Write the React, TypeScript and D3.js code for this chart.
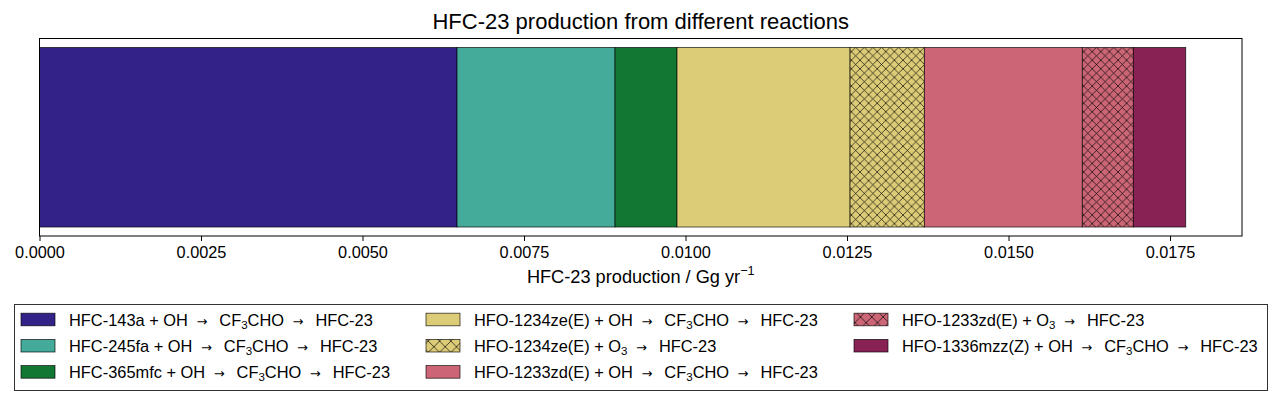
import React, { useEffect, useRef } from "react";
import * as d3 from "d3";

const WIDTH = 1282;
const HEIGHT = 406;
const MARGIN_LEFT = 39.5;
const MARGIN_RIGHT = 1242;
const PLOT_TOP = 38.5;
const PLOT_BOTTOM = 236;
const FONT = "'Liberation Sans', Arial, Helvetica, sans-serif";
const ARROW_FONT = "'DejaVu Sans', sans-serif";

// reaction pathways, in stacking order
const precursors = [
  "HFC-143a",
  "HFC-245fa",
  "HFC-365mfc",
  "HFO-1234ze(E)",
  "HFO-1234ze(E)",
  "HFO-1233zd(E)",
  "HFO-1233zd(E)",
  "HFO-1336mzz(Z)",
];
const oxidants = ["OH", "OH", "OH", "OH", "O3", "OH", "O3", "OH"];
const production = [
  0.006463, 0.002446, 0.000959, 0.002679, 0.00115, 0.002445, 0.00079, 0.000811,
];
const colors = [
  "#332288",
  "#44AA99",
  "#117733",
  "#DDCC77",
  "#DDCC77",
  "#CC6677",
  "#CC6677",
  "#882255",
];
const hatched = [false, false, false, false, true, false, true, false];
const xTicks = [0, 0.0025, 0.005, 0.0075, 0.01, 0.0125, 0.015, 0.0175];
const X_MAX = 0.018614;

// legend is filled column by column, 3 rows
const LEGEND_ROWS = 3;
const legendColX = [21, 426, 854];

type TextSel = d3.Selection<SVGTextElement, unknown, null, undefined>;

function addLabel(text: TextSel, i: number) {
  const plain = (s: string, dx = 0) =>
    text.append("tspan").attr("dx", dx).text(s);
  const sub = (s: string) =>
    text.append("tspan").attr("font-size", 11.5).attr("dy", 3.5).text(s);
  const arrow = (dy = 0) =>
    text
      .append("tspan")
      .attr("dx", 8.5)
      .attr("dy", dy)
      .attr("font-family", ARROW_FONT)
      .attr("font-size", 13)
      .text("\u2192");

  plain(precursors[i] + " + ");
  if (oxidants[i] === "O3") {
    plain("O");
    sub("3");
    arrow(-3.5);
    plain("HFC-23", 12);
  } else {
    plain("OH");
    arrow();
    plain("CF", 12);
    sub("3");
    text.append("tspan").attr("dy", -3.5).text("CHO");
    arrow();
    plain("HFC-23", 12);
  }
}

export default function App() {
  const svgRef = useRef<SVGSVGElement>(null);

  useEffect(() => {
    const svg = d3.select(svgRef.current);
    svg.selectAll("*").remove();

    const x = d3
      .scaleLinear()
      .domain([0, X_MAX])
      .range([MARGIN_LEFT, MARGIN_RIGHT]);
    const y = d3.scaleLinear().domain([-0.44, 0.44]).range([PLOT_BOTTOM, PLOT_TOP]);

    const defs = svg.append("defs");
    const hatch = (id: string, c: string, s: number) => {
      const p = defs
        .append("pattern")
        .attr("id", id)
        .attr("patternUnits", "userSpaceOnUse")
        .attr("width", s)
        .attr("height", s);
      p.append("rect").attr("width", s).attr("height", s).attr("fill", c);
      p.append("path")
        .attr(
          "d",
          `M0,0L${s},${s}M0,${s}L${s},0M-1,1L1,-1M${s - 1},${s + 1}L${s + 1},${s - 1}` +
            `M-1,${s - 1}L1,${s + 1}M${s - 1},-1L${s + 1},1`
        )
        .attr("stroke", "#000")
        .attr("stroke-opacity", 0.75)
        .attr("stroke-width", 0.9);
      return p;
    };
    colors.forEach((c, i) => {
      if (!hatched[i]) return;
      hatch(`hatch${i}`, c, 8.6);
      const col = Math.floor(i / LEGEND_ROWS);
      const row = i % LEGEND_ROWS;
      hatch(`lhatch${i}`, c, 11.3).attr(
        "patternTransform",
        `translate(${legendColX[col]},${319.5 + row * 26.2 - 5.65})`
      );
    });
    const fillOf = (i: number) => (hatched[i] ? `url(#hatch${i})` : colors[i]);
    const legendFillOf = (i: number) =>
      hatched[i] ? `url(#lhatch${i})` : colors[i];

    const ends = Array.from(d3.cumsum(production));
    const starts = ends.map((e, i) => e - production[i]);

    svg
      .append("g")
      .selectAll("rect")
      .data(production)
      .join("rect")
      .attr("x", (_, i) => x(starts[i]))
      .attr("width", (_, i) => x(ends[i]) - x(starts[i]))
      .attr("y", y(0.4))
      .attr("height", y(-0.4) - y(0.4))
      .attr("fill", (_, i) => fillOf(i))
      .attr("stroke", "#000")
      .attr("stroke-opacity", 0.8)
      .attr("stroke-width", 0.8);

    // frame
    svg
      .append("rect")
      .attr("x", MARGIN_LEFT)
      .attr("y", PLOT_TOP)
      .attr("width", MARGIN_RIGHT - MARGIN_LEFT)
      .attr("height", PLOT_BOTTOM - PLOT_TOP)
      .attr("fill", "none")
      .attr("stroke", "#000")
      .attr("stroke-width", 1);

    const axis = svg
      .append("g")
      .attr("transform", `translate(0,${PLOT_BOTTOM})`)
      .call(
        d3
          .axisBottom(x)
          .tickValues(xTicks)
          .tickFormat(d3.format(".4f"))
          .tickSize(5)
          .tickPadding(5)
      );
    axis.select(".domain").remove();
    axis
      .selectAll("text")
      .attr("font-size", 16.3)
      .attr("font-family", FONT)
      .attr("fill", "#000");
    axis.selectAll("line").attr("stroke", "#000");

    svg
      .append("text")
      .attr("x", (MARGIN_LEFT + MARGIN_RIGHT) / 2)
      .attr("y", 29)
      .attr("text-anchor", "middle")
      .attr("font-size", 22)
      .attr("font-family", FONT)
      .text("HFC-23 production from different reactions");

    const xl = svg
      .append("text")
      .attr("x", (MARGIN_LEFT + MARGIN_RIGHT) / 2)
      .attr("y", 282.5)
      .attr("text-anchor", "middle")
      .attr("font-size", 18.2)
      .attr("font-family", FONT);
    xl.append("tspan").text("HFC-23 production / Gg yr");
    xl.append("tspan").attr("font-size", 12.7).attr("dy", -7.5).text("\u22121");

    // legend
    svg
      .append("rect")
      .attr("x", 14.5)
      .attr("y", 304.5)
      .attr("width", 1253)
      .attr("height", 86)
      .attr("fill", "#fff")
      .attr("stroke", "#333")
      .attr("stroke-width", 1);

    const items = svg
      .append("g")
      .selectAll("g")
      .data(production)
      .join("g")
      .attr("transform", (_, i) => {
        const col = Math.floor(i / LEGEND_ROWS);
        const row = i % LEGEND_ROWS;
        return `translate(${legendColX[col]},${319.5 + row * 26.2})`;
      });
    items
      .append("rect")
      .attr("x", 0)
      .attr("y", -6.3)
      .attr("width", 34)
      .attr("height", 12.6)
      .attr("fill", (_, i) => legendFillOf(i))
      .attr("stroke", "#000")
      .attr("stroke-opacity", 0.8)
      .attr("stroke-width", 0.8);
    items.each(function (_, i) {
      const t = d3
        .select(this)
        .append("text")
        .attr("x", 48)
        .attr("y", 6)
        .attr("font-size", 16.4)
        .attr("font-family", FONT)
        .attr("fill", "#000");
      addLabel(t as unknown as TextSel, i);
    });
  }, []);

  return (
    <div style={{ position: "absolute", left: 0, top: 0 }}>
      <svg ref={svgRef} width={WIDTH} height={HEIGHT} style={{ display: "block" }} />
    </div>
  );
}
